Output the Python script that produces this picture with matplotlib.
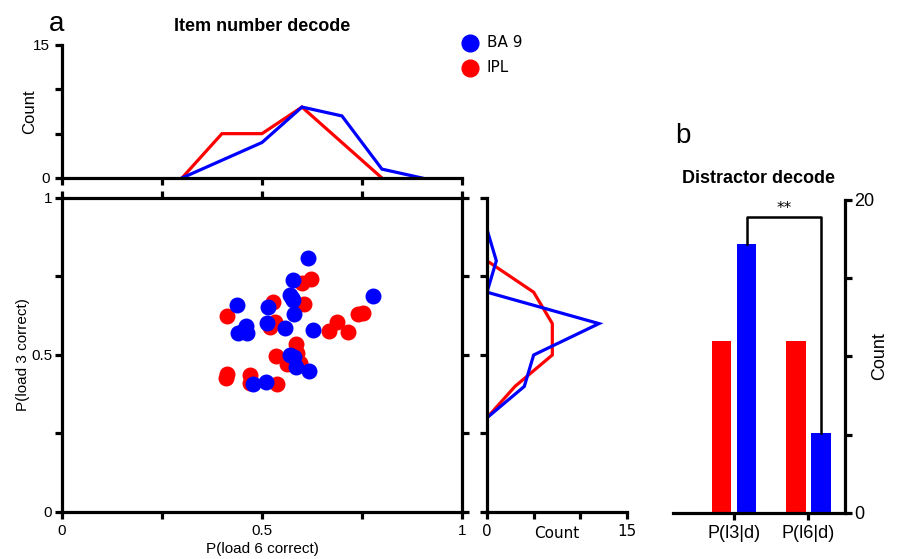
import matplotlib.pyplot as plt
import numpy as np

plt.rcParams['font.family'] = ['Liberation Sans', 'DejaVu Sans']

BLUE = '#0000ff'
RED = '#ff0000'
LW = 2.3

# scatter data (x: P(load 6 correct), y: P(load 3 correct))
ba9_x = [0.616, 0.577, 0.570, 0.578, 0.437, 0.516, 0.580, 0.513, 0.557, 0.628, 0.460,
         0.441, 0.463, 0.570, 0.580, 0.585, 0.618, 0.510, 0.477, 0.778, 0.574, 0.452]
ba9_y = [0.808, 0.739, 0.691, 0.675, 0.659, 0.654, 0.630, 0.601, 0.585, 0.580, 0.592,
         0.571, 0.569, 0.500, 0.493, 0.463, 0.450, 0.415, 0.408, 0.688, 0.683, 0.575]
ipl_x = [0.622, 0.599, 0.528, 0.605, 0.412, 0.532, 0.520, 0.668, 0.687, 0.716, 0.741,
         0.753, 0.585, 0.535, 0.588, 0.563, 0.595, 0.413, 0.410, 0.470, 0.470, 0.538]
ipl_y = [0.741, 0.728, 0.670, 0.662, 0.624, 0.606, 0.588, 0.577, 0.606, 0.574, 0.631,
         0.633, 0.535, 0.497, 0.505, 0.471, 0.473, 0.439, 0.426, 0.436, 0.410, 0.408]

# marginal histograms (bin centres and counts)
top_bins = [0.3, 0.4, 0.5, 0.6, 0.7, 0.8, 0.9]
top_ba9 = [0, 2, 4, 8, 7, 1, 0]
top_ipl_bins = [0.3, 0.4, 0.5, 0.6, 0.7, 0.8]
top_ipl = [0, 5, 5, 8, 4, 0]

right_bins = [0.9, 0.8, 0.7, 0.6, 0.5, 0.4, 0.3]
right_ba9 = [0, 1, 0, 12, 5, 4, 0]
right_ipl_bins = [0.8, 0.7, 0.6, 0.5, 0.4, 0.3]
right_ipl = [0, 5, 7, 7, 3, 0]

# distractor decode bars
bar_labels = ['P(l3|d)', 'P(l6|d)']
bar_ipl = [11, 11]
bar_ba9 = [17.2, 5.1]

fig = plt.figure(figsize=(8.98, 5.59), dpi=100)

ax_main = fig.add_axes([0.069, 0.0841, 0.4454, 0.5617])
ax_top = fig.add_axes([0.069, 0.6816, 0.4454, 0.2379])
ax_right = fig.add_axes([0.5423, 0.0841, 0.1559, 0.5617])
ax_bar = fig.add_axes([0.7494, 0.0823, 0.1915, 0.56])


def style(ax):
    for s in ax.spines.values():
        s.set_linewidth(LW)
    ax.tick_params(width=LW, length=5, labelsize=11, direction='out')


# main scatter
ax_main.scatter(ba9_x, ba9_y, s=110, color=BLUE, zorder=3, label='BA 9')
ax_main.scatter(ipl_x, ipl_y, s=110, color=RED, zorder=2, label='IPL')
ax_main.set_xlim(0, 1)
ax_main.set_ylim(0, 1)
ax_main.set_xticks([0, 0.25, 0.5, 0.75, 1])
ax_main.set_xticklabels(['0', '', '0.5', '', '1'])
ax_main.set_yticks([0, 0.25, 0.5, 0.75, 1])
ax_main.set_yticklabels(['0', '', '0.5', '', '1'])
ax_main.set_xlabel('P(load 6 correct)', fontsize=11, labelpad=3)
ax_main.set_ylabel('P(load 3 correct)', fontsize=11, labelpad=1)
style(ax_main)
ax_main.tick_params(top=True, right=True)
ax_main.tick_params(axis='y', pad=2)

# top histogram
ax_top.plot(top_ipl_bins, top_ipl, color=RED, lw=LW, solid_joinstyle='miter')
ax_top.plot(top_bins, top_ba9, color=BLUE, lw=LW, solid_joinstyle='miter')
ax_top.set_xlim(0, 1)
ax_top.set_ylim(0, 15)
ax_top.set_xticks([0, 0.25, 0.5, 0.75, 1])
ax_top.set_xticklabels([])
ax_top.set_yticks([0, 5, 10, 15])
ax_top.set_yticklabels(['0', '', '', '15'])
ax_top.spines['top'].set_visible(False)
ax_top.spines['right'].set_visible(False)
ax_top.set_ylabel('Count', fontsize=12, labelpad=-3)
ax_top.set_title('Item number decode', fontsize=13, fontweight='bold', pad=10)
style(ax_top)

# right histogram
ax_right.plot(right_ipl, right_ipl_bins, color=RED, lw=LW, solid_joinstyle='miter')
ax_right.plot(right_ba9, right_bins, color=BLUE, lw=LW, solid_joinstyle='miter')
ax_right.set_ylim(0, 1)
ax_right.set_xlim(0, 15)
ax_right.set_yticks([0, 0.25, 0.5, 0.75, 1])
ax_right.set_yticklabels([])
ax_right.set_xticks([0, 5, 10, 15])
ax_right.set_xticklabels(['0', '', '', '15'], family='DejaVu Sans')
ax_right.spines['top'].set_visible(False)
ax_right.spines['right'].set_visible(False)
ax_right.set_xlabel('Count', fontsize=11, family='DejaVu Sans', labelpad=-9)
style(ax_right)

# distractor decode bars
pos = np.arange(len(bar_labels))
w = 0.26
ax_bar.bar(pos - 0.168, bar_ipl, width=w, color=RED)
ax_bar.bar(pos + 0.168, bar_ba9, width=w, color=BLUE)
ax_bar.set_xlim(-0.82, 1.49)
ax_bar.set_ylim(0, 20)
ax_bar.set_xticks(pos)
ax_bar.set_xticklabels(bar_labels)
ax_bar.yaxis.tick_right()
ax_bar.yaxis.set_label_position('right')
ax_bar.set_yticks([0, 5, 10, 15, 20])
ax_bar.set_yticklabels(['0', '', '', '', '20'])
ax_bar.spines['top'].set_visible(False)
ax_bar.spines['left'].set_visible(False)
ax_bar.set_title('Distractor decode', fontsize=13, fontweight='bold', pad=12, x=0.5)
style(ax_bar)
ax_bar.tick_params(labelsize=13)
ax_bar.tick_params(axis='y', pad=1.5)
ax_bar.set_ylabel('Count', fontsize=13, labelpad=-2)

# significance bracket
yb = 18.9
ax_bar.plot([0.168, 0.168, 1.168, 1.168], [bar_ba9[0], yb, yb, bar_ba9[1]],
            color='black', lw=1.8, clip_on=False)
ax_bar.text(0.668, yb + 0.1, '**', ha='center', va='bottom', fontsize=11,
            family='DejaVu Sans')

# legend
fig.legend(handles=ax_main.collections, labels=['BA 9', 'IPL'],
           loc='upper left', bbox_to_anchor=(0.491, 0.962), frameon=False,
           prop={'family': 'DejaVu Sans', 'size': 11}, handletextpad=0.1,
           labelspacing=0.65, scatterpoints=1, markerscale=1.15)

# panel letters
fig.text(0.054, 0.945, 'a', fontsize=20)
fig.text(0.752, 0.745, 'b', fontsize=20)

fig.savefig('out.png', dpi=100)
